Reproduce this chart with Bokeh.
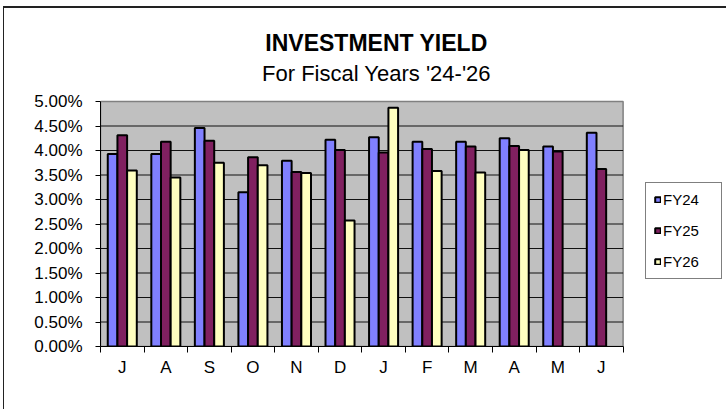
from bokeh.plotting import figure
from bokeh.models import Range1d, FixedTicker, Label, Legend, LegendItem, ColumnDataSource
from bokeh.embed import file_html
from bokeh.resources import INLINE

# ---- data ----
months = ["J", "A", "S", "O", "N", "D", "J", "F", "M", "A", "M", "J"]
fy24 = [3.93, 3.93, 4.46, 3.15, 3.79, 4.22, 4.27, 4.18, 4.18, 4.25, 4.08, 4.36]
fy25 = [4.31, 4.18, 4.20, 3.86, 3.56, 4.01, 3.96, 4.03, 4.08, 4.09, 3.98, 3.62]
fy26 = [3.59, 3.45, 3.75, 3.70, 3.54, 2.57, 4.87, 3.58, 3.55, 4.01]
series_names = ["FY24", "FY25", "FY26"]
y_ticks = [0.0, 0.5, 1.0, 1.5, 2.0, 2.5, 3.0, 3.5, 4.0, 4.5, 5.0]
title_text = "INVESTMENT YIELD"
subtitle_text = "For Fiscal Years '24-'26"

colors = ["#8080FF", "#802060", "#FFFFC0"]
FONT = "Liberation Sans"

# ---- layout (pixels) ----
W, H = 723, 403
B_LEFT, B_RIGHT, B_TOP, B_BOTTOM = 96, 2, 0, 65
AREA_W = 522.6          # width of the grey plot area
AREA_H = 245.0          # height of the grey plot area
frame_w = W - B_LEFT - B_RIGHT
frame_h = H - B_TOP - B_BOTTOM
n = len(months)
y_max = y_ticks[-1]
x_end = n * frame_w / AREA_W
y_end = y_max * frame_h / AREA_H
px_x = AREA_W / n
px_y = AREA_H / y_max

p = figure(width=W, height=H, output_backend="svg", toolbar_location=None, title=None,
           x_range=Range1d(0, x_end), y_range=Range1d(0, y_end),
           min_border_left=B_LEFT, min_border_right=B_RIGHT, min_border_top=B_TOP,
           min_border_bottom=B_BOTTOM)
p.styles = {"margin-left": "3px", "margin-top": "6px",
            "border-top": "2px solid #222222", "border-left": "1px solid #222222"}
p.background_fill_color = "white"
p.border_fill_color = "white"
p.outline_line_color = None
p.xgrid.visible = False
p.ygrid.visible = False

# grey plot area and its grid
p.quad(left=0, right=n, bottom=0, top=y_max, fill_color="#C0C0C0",
       line_color="#808080", line_width=1.5)
grid_y = y_ticks[1:-1]
p.segment(x0=[0] * len(grid_y), y0=grid_y, x1=[n] * len(grid_y), y1=grid_y,
          line_color="#111111", line_width=1)

bar_w = 1.0 / 4.5
offsets = [-bar_w, 0.0, bar_w]
renderers = []
for k, (name, vals) in enumerate(zip(series_names, [fy24, fy25, fy26])):
    src = ColumnDataSource(dict(x=[i + 0.5 + offsets[k] for i in range(len(vals))], top=vals))
    r = p.vbar(x="x", top="top", bottom=0, width=bar_w, source=src,
               fill_color=colors[k], line_color="black", line_width=2)
    renderers.append(r)

# y axis
yax = p.yaxis[0]
yax.bounds = (0, y_max)
yax.ticker = FixedTicker(ticks=y_ticks)
yax.major_label_overrides = {t: f"{t:.2f}%" for t in y_ticks}
yax.major_tick_out = 5
yax.major_tick_in = 0
yax.minor_tick_line_color = None
yax.major_label_standoff = 13
yax.axis_line_color = "black"
yax.major_tick_line_color = "black"
yax.major_label_text_font = FONT
yax.major_label_text_font_size = "17px"
yax.major_label_text_color = "black"

# x axis
centers = [i + 0.5 for i in range(n)]
bounds = [float(i) for i in range(n + 1)]
xax = p.xaxis[0]
xax.bounds = (0, n)
xax.ticker = FixedTicker(ticks=centers, minor_ticks=bounds)
xax.major_label_overrides = {c: m for c, m in zip(centers, months)}
xax.major_tick_line_color = None
xax.major_tick_out = 0
xax.major_tick_in = 0
xax.minor_tick_out = 6
xax.minor_tick_in = 0
xax.minor_tick_line_color = "black"
xax.axis_line_color = "black"
xax.major_label_standoff = 5
xax.major_label_text_font = FONT
xax.major_label_text_font_size = "17px"
xax.major_label_text_color = "black"

# titles (inside the extended frame, above the grey area)
title_cx = (376 - 100) / px_x
p.add_layout(Label(x=title_cx, y=(346 - 42) / px_y, text=title_text, text_align="center",
                   text_baseline="alphabetic", text_font=FONT, text_font_style="bold",
                   text_font_size="23px", text_color="black"))
p.add_layout(Label(x=title_cx, y=(346 - 72.5) / px_y, text=subtitle_text, text_align="center",
                   text_baseline="alphabetic", text_font=FONT,
                   text_font_size="22px", text_color="black"))

# legend
legend = Legend(items=[LegendItem(label=nm, renderers=[r]) for nm, r in zip(series_names, renderers)],
                location=(545, 67), orientation="vertical")
legend.glyph_width = 7
legend.glyph_height = 7
legend.label_standoff = 2
legend.label_height = 17
legend.label_width = 50
legend.spacing = 14
legend.padding = 8
legend.margin = 0
legend.border_line_color = "black"
legend.border_line_width = 1
legend.background_fill_color = "white"
legend.background_fill_alpha = 1
legend.label_text_font = FONT
legend.label_text_font_size = "15px"
legend.label_text_color = "black"
p.add_layout(legend, "center")

open("out.html", "w").write(file_html(p, INLINE))
